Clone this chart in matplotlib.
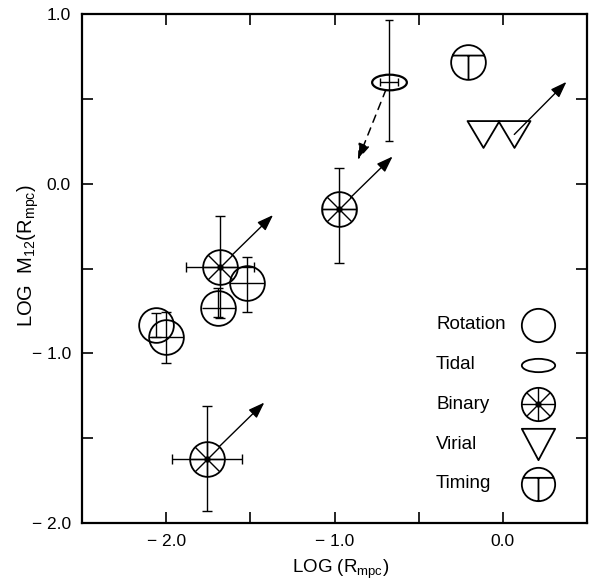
import numpy as np
import matplotlib
matplotlib.use("Agg")
import matplotlib.pyplot as plt
from matplotlib.path import Path

plt.rcParams['font.family'] = ['Liberation Sans', 'DejaVu Sans']
plt.rcParams['mathtext.default'] = 'regular'

# rotation curve points
rot_x = [-1.52, -1.69, -2.06, -2.00]
rot_y = [-0.585, -0.735, -0.835, -0.905]
rot_ylo = [0.17, 0.05, 0.07, 0.15]
rot_yhi = [0.15, 0.12, 0.07, 0.15]
rot_xerr = [0.10, 0.10, 0.0, 0.10]

# binary points (lower limits -> arrows)
bin_x = [-1.68, -0.975, -1.757]
bin_y = [-0.49, -0.15, -1.62]
bin_ylo = [0.30, 0.32, 0.31]
bin_yhi = [0.30, 0.24, 0.31]
bin_xerr = [0.20, 0.10, 0.21]
bin_dx = [0.315, 0.32, 0.34]
bin_dy = [0.305, 0.31, 0.33]

# tidal
tid_x = [-0.676]
tid_y = [0.60]
tid_ylo = [0.35]
tid_yhi = [0.365]
tid_xerr = [0.055]
tid_dx = [-0.185]
tid_dy = [-0.46]

# virial
vir_x = [-0.115, 0.068]
vir_y = [0.29, 0.29]
vir_dx = [0.0, 0.31]
vir_dy = [0.0, 0.31]

# timing
tim_x = [-0.206]
tim_y = [0.717]

legend_labels = ['Rotation', 'Tidal', 'Binary', 'Virial', 'Timing']

# custom marker shapes
circ = Path.unit_circle()
ellipse_m = Path(circ.vertices * [1, 0.45], circ.codes)
ellipse_leg = Path(circ.vertices * [1, 0.40], circ.codes)
timing_m = Path.make_compound_path(circ,
                                   Path([[-0.917, 0.4], [0.917, 0.4]]),
                                   Path([[0, 0.4], [0, -1]]))
tri_m = Path([[-1, 0.84], [1, 0.84], [0, -0.84], [-1, 0.84]],
             [Path.MOVETO, Path.LINETO, Path.LINETO, Path.CLOSEPOLY])
tri_leg = Path([[-1, 0.94], [1, 0.94], [0, -0.94], [-1, 0.94]],
               [Path.MOVETO, Path.LINETO, Path.LINETO, Path.CLOSEPOLY])

ms = 25
mlw = 1.3
k = 'black'
arrow_style = '-|>,head_length=0.7,head_width=0.25'


def binary_marker(ax, x, y, size, **kw):
    ax.plot(x, y, 'o', ms=size, mfc='none', mec=k, mew=mlw, ls='none', **kw)
    ax.plot(x, y, 'x', ms=size/np.sqrt(2), mec=k, mew=1.0, ls='none', **kw)
    ax.plot(x, y, '+', ms=size, mec=k, mew=1.0, ls='none', **kw)
    ax.plot(x, y, 'o', ms=3.5, color=k, ls='none', **kw)


fig = plt.figure(figsize=(5.96, 5.86), dpi=100)
ax = fig.add_axes([82/596, 63/586, 505/596, 509/586])

# rotation
ax.errorbar(rot_x, rot_y, yerr=[rot_ylo, rot_yhi], fmt='none', ecolor=k,
            elinewidth=1.0, capsize=3.5, capthick=1.0)
ax.errorbar(rot_x, rot_y, xerr=rot_xerr, fmt='none', ecolor=k,
            elinewidth=1.0, capsize=0)
ax.plot(rot_x, rot_y, 'o', ms=ms, mfc='none', mec=k, mew=mlw, ls='none')

# binary
ax.errorbar(bin_x, bin_y, yerr=[bin_ylo, bin_yhi], xerr=bin_xerr, fmt='none',
            ecolor=k, elinewidth=1.0, capsize=3.5, capthick=1.0)
binary_marker(ax, bin_x, bin_y, ms)
for x, y, dx, dy in zip(bin_x, bin_y, bin_dx, bin_dy):
    ax.annotate('', xy=(x + dx, y + dy), xytext=(x, y),
                arrowprops=dict(arrowstyle=arrow_style, color=k, lw=1.0,
                                shrinkA=12, shrinkB=0, mutation_scale=14))

# tidal
ax.errorbar(tid_x, tid_y, yerr=[tid_ylo, tid_yhi], xerr=tid_xerr, fmt='none',
            ecolor=k, elinewidth=1.0, capsize=3, capthick=1.0)
ax.plot(tid_x, tid_y, marker=ellipse_m, ms=25, mfc='none', mec=k, mew=1.6, ls='none')
for x, y, dx, dy in zip(tid_x, tid_y, tid_dx, tid_dy):
    ax.annotate('', xy=(x + dx, y + dy), xytext=(x, y),
                arrowprops=dict(arrowstyle=arrow_style, color=k, lw=1.1,
                                ls=(0, (5, 4)), shrinkA=6, shrinkB=0,
                                mutation_scale=14))

# virial
ax.plot(vir_x, vir_y, marker=tri_m, ms=23, mfc='none', mec=k, mew=mlw, ls='none')
for x, y, dx, dy in zip(vir_x, vir_y, vir_dx, vir_dy):
    if dx == 0 and dy == 0:
        continue
    ax.annotate('', xy=(x + dx, y + dy), xytext=(x, y),
                arrowprops=dict(arrowstyle=arrow_style, color=k, lw=1.0,
                                shrinkA=0, shrinkB=0, mutation_scale=14))

# timing
ax.plot(tim_x, tim_y, marker=timing_m, ms=ms, mfc='none', mec=k, mew=mlw, ls='none')

# key, drawn in axes coordinates
row_y = 0.389 - 0.078 * np.arange(len(legend_labels))
sym_x = 0.903
tr = ax.transAxes
for lab, yy in zip(legend_labels, row_y):
    ax.text(0.701, yy, lab, transform=tr, ha='left', va='center', fontsize=13.5)
ax.plot(sym_x, row_y[0], 'o', ms=24, mfc='none', mec=k, mew=mlw, transform=tr)
ax.plot(sym_x, row_y[1], marker=ellipse_leg, ms=24, mfc='none', mec=k, mew=mlw, transform=tr)
binary_marker(ax, sym_x, row_y[2], 24, transform=tr)
ax.plot(sym_x, row_y[3], marker=tri_leg, ms=24, mfc='none', mec=k, mew=mlw, transform=tr)
ax.plot(sym_x, row_y[4], marker=timing_m, ms=24, mfc='none', mec=k, mew=mlw, transform=tr)

ax.set_xlim(-2.5, 0.5)
ax.set_ylim(-2.0, 1.0)
ax.set_xticks([-2.0, -1.0, 0.0])
ax.set_xticklabels(['\u2212 2.0', '\u2212 1.0', '0.0'])
ax.set_xticks([-1.5, -0.5], minor=True)
ax.set_yticks([-2.0, -1.0, 0.0, 1.0])
ax.set_yticklabels(['\u2212 2.0', '\u2212 1.0', '0.0', '1.0'])
ax.set_yticks([-1.5, -0.5, 0.5], minor=True)
ax.tick_params(which='both', direction='in', length=8, width=1.2,
               top=True, right=True, labelsize=12.5, pad=8)
for s in ax.spines.values():
    s.set_linewidth(1.6)

ax.set_xlabel('LOG (R$_{mpc}$)', fontsize=13.5)
ax.xaxis.set_label_coords(0.513, -0.068)
ax.set_ylabel('LOG  M$_{12}$(R$_{mpc}$)', fontsize=14.5)
ax.yaxis.set_label_coords(-0.082, 0.525)

fig.savefig('out.png', dpi=100)
